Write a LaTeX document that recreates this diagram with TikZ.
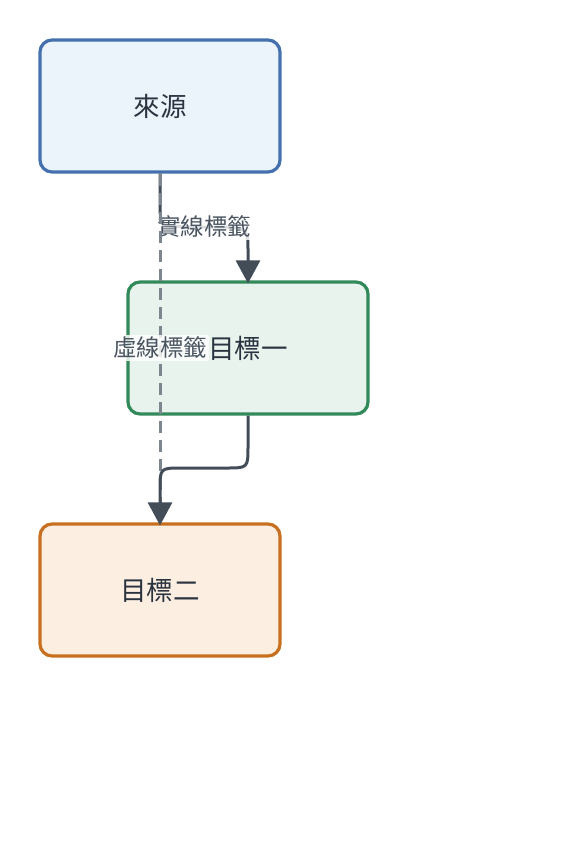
\documentclass[tikz,border=0pt]{standalone}
\usepackage{fontspec}
\setmainfont{Noto Sans CJK TC}
\usetikzlibrary{arrows.meta}
\definecolor{srcfill}{HTML}{EBF3FB}
\definecolor{srcdraw}{HTML}{4470AE}
\definecolor{t1fill}{HTML}{E7F3EC}
\definecolor{t1draw}{HTML}{32895A}
\definecolor{t2fill}{HTML}{FCEFE2}
\definecolor{t2draw}{HTML}{C8701F}
\definecolor{edgecol}{HTML}{434D58}
\definecolor{dashcol}{HTML}{7D858F}
\definecolor{txtcol}{HTML}{2A3340}
\definecolor{lblcol}{HTML}{4A5561}
\tikzset{
  box/.style={rounded corners=12pt, line width=3.2pt, minimum width=240pt, minimum height=132pt,
    inner sep=0pt, font=\fontsize{26.5}{32}\selectfont, text=txtcol},
  solidedge/.style={line width=3pt, draw=edgecol, shorten >=-3pt, -{Triangle[length=23pt,width=24pt]}},
  dashedge/.style={line width=3pt, draw=dashcol, dash pattern=on 12pt off 7pt},
  elabel/.style={fill=white, fill opacity=0.82, text opacity=1, text=lblcol,
    font=\fontsize{23.5}{28}\selectfont, inner sep=2pt}
}
\begin{document}
\begin{tikzpicture}[x=1pt,y=-1pt]
\useasboundingbox (0,0) rectangle (568,856);
\node[box, fill=srcfill, draw=srcdraw] (src) at (160,106) {來源};
\node[box, fill=t1fill, draw=t1draw] (t1) at (248,348) {目標一};
\node[box, fill=t2fill, draw=t2draw] (t2) at (160,590) {目標二};
\coordinate (a1) at (160,205);
\coordinate (a2) at (204,227);
\coordinate (a3) at (248,250);
\draw[solidedge] (src.south) -- (a1) .. controls (160,227) .. (a2) .. controls (248,227) .. (a3) -- (t1.north);
\node[elabel] (l1) at (204,227) {實線標籤};
\draw[dashedge] (src.south) -- (t2.north);
\node[elabel] (l2) at (160,348) {虛線標籤};
\coordinate (b1) at (248,446);
\coordinate (b2) at (226,468);
\coordinate (b3) at (182,468);
\coordinate (b4) at (160,490);
\draw[solidedge] (t1.south) -- (b1) .. controls (248,468) .. (b2) -- (b3) .. controls (160,468) .. (b4) -- (t2.north);
\end{tikzpicture}
\end{document}
